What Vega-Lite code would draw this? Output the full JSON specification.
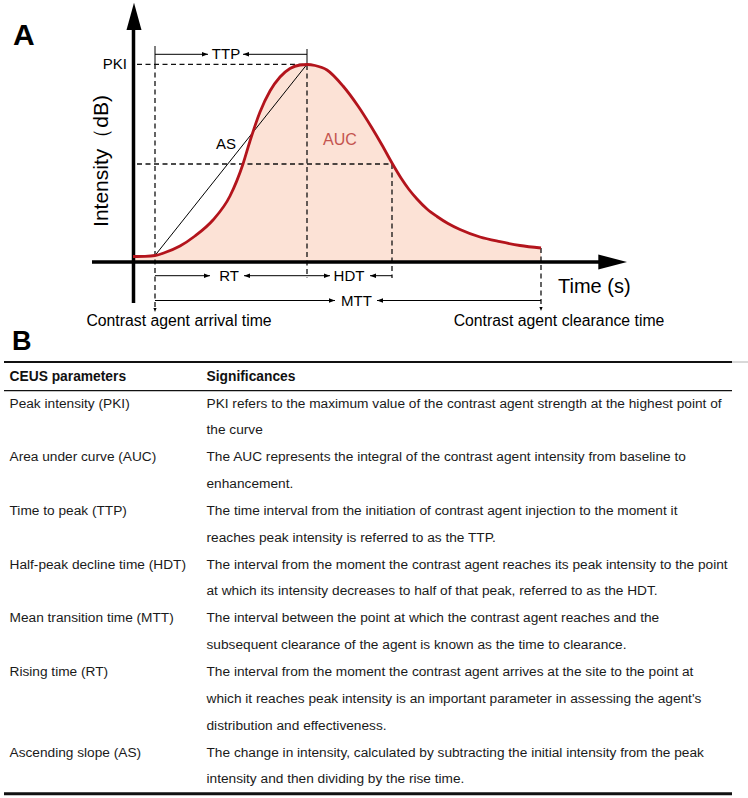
{
  "$schema": "https://vega.github.io/schema/vega-lite/v6.json",
  "padding": 0,
  "spacing": 0,
  "bounds": "flush",
  "background": "white",
  "config": {"view": {"stroke": null}, "font": "Liberation Sans"},
  "datasets": {
    "curve": [
      {"t": 0, "I": 5.5}, {"t": 12, "I": 5.7}, {"t": 22, "I": 6.5}, {"t": 32, "I": 9.5}, {"t": 47, "I": 16},
      {"t": 62, "I": 26}, {"t": 80, "I": 42}, {"t": 97, "I": 66}, {"t": 110, "I": 98}, {"t": 117, "I": 121},
      {"t": 127, "I": 150}, {"t": 137, "I": 171}, {"t": 147, "I": 185}, {"t": 157, "I": 193.5}, {"t": 167, "I": 197},
      {"t": 174, "I": 197.5}, {"t": 182, "I": 196.5}, {"t": 194, "I": 192}, {"t": 210, "I": 176}, {"t": 225, "I": 156},
      {"t": 239, "I": 134}, {"t": 249, "I": 117}, {"t": 259, "I": 99}, {"t": 268, "I": 84}, {"t": 276, "I": 72.5},
      {"t": 284, "I": 63}, {"t": 294, "I": 53}, {"t": 304, "I": 45.5}, {"t": 315, "I": 38.5}, {"t": 327, "I": 32.5},
      {"t": 347, "I": 25}, {"t": 367, "I": 20.3}, {"t": 387, "I": 16.5}, {"t": 408, "I": 14}
    ],
    "segments": [
      {"kind": "dashed", "t": 4, "I": 197.7, "t2": 174, "I2": 197.7},
      {"kind": "dashed", "t": 4, "I": 98, "t2": 259, "I2": 98},
      {"kind": "dashed", "t": 22, "I": 198, "t2": 22, "I2": -48},
      {"kind": "dashed", "t": 174, "I": 197, "t2": 174, "I2": -16},
      {"kind": "dashed", "t": 259, "I": 98, "t2": 259, "I2": -16},
      {"kind": "dashed", "t": 408, "I": 14, "t2": 408, "I2": -47},
      {"kind": "thin", "t": 22, "I": 216, "t2": 22, "I2": 198},
      {"kind": "thin", "t": 174, "I": 213, "t2": 174, "I2": 197},
      {"kind": "thin", "t": 22, "I": 207.7, "t2": 75, "I2": 207.7},
      {"kind": "thin", "t": 110, "I": 207.7, "t2": 174, "I2": 207.7},
      {"kind": "thin", "t": 22, "I": 6.5, "t2": 174, "I2": 197.7},
      {"kind": "thin", "t": 22, "I": -13.7, "t2": 77, "I2": -13.7},
      {"kind": "thin", "t": 111, "I": -13.7, "t2": 174, "I2": -13.7},
      {"kind": "thin", "t": 174, "I": -13.7, "t2": 197, "I2": -13.7},
      {"kind": "thin", "t": 237, "I": -13.7, "t2": 259, "I2": -13.7},
      {"kind": "thin", "t": 22, "I": -38.5, "t2": 202, "I2": -38.5},
      {"kind": "thin", "t": 244, "I": -38.5, "t2": 408, "I2": -38.5},
      {"kind": "axis", "t": 0.5, "I": -41, "t2": 0.5, "I2": 233},
      {"kind": "axis", "t": -41, "I": 0, "t2": 467, "I2": 0}
    ],
    "arrows": [
      {"dir": "right", "t": 75, "I": 207.7},
      {"dir": "right", "t": 77, "I": -13.7},
      {"dir": "right", "t": 197, "I": -13.7},
      {"dir": "right", "t": 202, "I": -38.5},
      {"dir": "left", "t": 110, "I": 207.7},
      {"dir": "left", "t": 111, "I": -13.7},
      {"dir": "left", "t": 237, "I": -13.7},
      {"dir": "left", "t": 244, "I": -38.5},
      {"dir": "down", "t": 22, "I": -50},
      {"dir": "down", "t": 408, "I": -49},
      {"dir": "up-axis", "t": 1, "I": 259.3},
      {"dir": "right-axis", "t": 494, "I": 0}
    ],
    "labels": [
      {"role": "panel", "label": "A", "t": -120, "I": 217},
      {"role": "mid", "label": "TTP", "t": 93, "I": 207.7},
      {"role": "mid", "label": "AS", "t": 93, "I": 118},
      {"role": "mid", "label": "RT", "t": 96, "I": -13.7},
      {"role": "mid", "label": "HDT", "t": 216, "I": -13.7},
      {"role": "mid", "label": "MTT", "t": 223.5, "I": -38.5},
      {"role": "pki", "label": "PKI", "t": -6, "I": 197.7},
      {"role": "auc", "label": "AUC", "t": 207, "I": 122},
      {"role": "ylab", "label": "Intensity（dB)", "t": -31, "I": 101},
      {"role": "xlab", "label": "Time (s)", "t": 425, "I": -25},
      {"role": "event", "label": "Contrast agent arrival time", "t": 46, "I": -59},
      {"role": "event", "label": "Contrast agent clearance time", "t": 426, "I": -59}
    ],
    "table": [
      {"part": "head", "col": "param", "line": 0, "text": "CEUS parameters"},
      {"part": "head", "col": "sig", "line": 0, "text": "Significances"},
      {"part": "body", "col": "param", "line": 1, "text": "Peak intensity (PKI)"},
      {"part": "body", "col": "sig", "line": 1, "text": "PKI refers to the maximum value of the contrast agent strength at the highest point of"},
      {"part": "body", "col": "sig", "line": 2, "text": "the curve"},
      {"part": "body", "col": "param", "line": 3, "text": "Area under curve (AUC)"},
      {"part": "body", "col": "sig", "line": 3, "text": "The AUC represents the integral of the contrast agent intensity from baseline to"},
      {"part": "body", "col": "sig", "line": 4, "text": "enhancement."},
      {"part": "body", "col": "param", "line": 5, "text": "Time to peak (TTP)"},
      {"part": "body", "col": "sig", "line": 5, "text": "The time interval from the initiation of contrast agent injection to the moment it"},
      {"part": "body", "col": "sig", "line": 6, "text": "reaches peak intensity is referred to as the TTP."},
      {"part": "body", "col": "param", "line": 7, "text": "Half-peak decline time (HDT)"},
      {"part": "body", "col": "sig", "line": 7, "text": "The interval from the moment the contrast agent reaches its peak intensity to the point"},
      {"part": "body", "col": "sig", "line": 8, "text": "at which its intensity decreases to half of that peak, referred to as the HDT."},
      {"part": "body", "col": "param", "line": 9, "text": "Mean transition time (MTT)"},
      {"part": "body", "col": "sig", "line": 9, "text": "The interval between the point at which the contrast agent reaches and the"},
      {"part": "body", "col": "sig", "line": 10, "text": "subsequent clearance of the agent is known as the time to clearance."},
      {"part": "body", "col": "param", "line": 11, "text": "Rising time (RT)"},
      {"part": "body", "col": "sig", "line": 11, "text": "The interval from the moment the contrast agent arrives at the site to the point at"},
      {"part": "body", "col": "sig", "line": 12, "text": "which it reaches peak intensity is an important parameter in assessing the agent's"},
      {"part": "body", "col": "sig", "line": 13, "text": "distribution and effectiveness."},
      {"part": "body", "col": "param", "line": 14, "text": "Ascending slope (AS)"},
      {"part": "body", "col": "sig", "line": 14, "text": "The change in intensity, calculated by subtracting the initial intensity from the peak"},
      {"part": "body", "col": "sig", "line": 15, "text": "intensity and then dividing by the rise time."}
    ],
    "tableRules": [
      {"rule": "top", "line": -0.547},
      {"rule": "mid", "line": 0.521},
      {"rule": "bottom", "line": 15.53}
    ]
  },
  "vconcat": [
    {
      "width": 748,
      "height": 326,
      "layer": [
        {
          "data": {"name": "curve"},
          "mark": {"type": "area", "color": "#fce2d6", "interpolate": "monotone"},
          "encoding": {
            "x": {"field": "t", "type": "quantitative", "scale": {"domain": [-133, 615], "nice": false, "zero": false}, "axis": null},
            "y": {"field": "I", "type": "quantitative", "scale": {"domain": [-64, 262], "nice": false, "zero": false}, "axis": null},
            "y2": {"datum": 0}
          }
        },
        {
          "data": {"name": "segments"},
          "transform": [{"filter": "datum.kind === 'dashed'"}],
          "mark": {"type": "rule", "color": "#111111", "strokeWidth": 1.3, "strokeDash": [5, 3.5]},
          "encoding": {
            "x": {"field": "t", "type": "quantitative"},
            "y": {"field": "I", "type": "quantitative"},
            "x2": {"field": "t2"},
            "y2": {"field": "I2"}
          }
        },
        {
          "data": {"name": "segments"},
          "transform": [{"filter": "datum.kind === 'thin'"}],
          "mark": {"type": "rule", "color": "#000000", "strokeWidth": 1},
          "encoding": {
            "x": {"field": "t", "type": "quantitative"},
            "y": {"field": "I", "type": "quantitative"},
            "x2": {"field": "t2"},
            "y2": {"field": "I2"}
          }
        },
        {
          "data": {"name": "segments"},
          "transform": [{"filter": "datum.kind === 'axis'"}],
          "mark": {"type": "rule", "color": "#000000", "strokeWidth": 3.5},
          "encoding": {
            "x": {"field": "t", "type": "quantitative"},
            "y": {"field": "I", "type": "quantitative"},
            "x2": {"field": "t2"},
            "y2": {"field": "I2"}
          }
        },
        {
          "data": {"name": "curve"},
          "mark": {"type": "line", "color": "#b3141c", "strokeWidth": 2.8, "interpolate": "monotone"},
          "encoding": {
            "x": {"field": "t", "type": "quantitative"},
            "y": {"field": "I", "type": "quantitative"}
          }
        },
        {
          "data": {"name": "arrows"},
          "transform": [{"filter": "datum.dir === 'right'"}],
          "mark": {"type": "point", "shape": "M0,0L-2,-0.75L-2,0.75Z", "filled": true, "size": 36, "color": "#000000", "opacity": 1, "strokeWidth": 0},
          "encoding": {
            "x": {"field": "t", "type": "quantitative"},
            "y": {"field": "I", "type": "quantitative"}
          }
        },
        {
          "data": {"name": "arrows"},
          "transform": [{"filter": "datum.dir === 'left'"}],
          "mark": {"type": "point", "shape": "M0,0L2,-0.75L2,0.75Z", "filled": true, "size": 36, "color": "#000000", "opacity": 1, "strokeWidth": 0},
          "encoding": {
            "x": {"field": "t", "type": "quantitative"},
            "y": {"field": "I", "type": "quantitative"}
          }
        },
        {
          "data": {"name": "arrows"},
          "transform": [{"filter": "datum.dir === 'down'"}],
          "mark": {"type": "point", "shape": "M0,0L-0.8,-2L0.8,-2Z", "filled": true, "size": 16, "color": "#000000", "opacity": 1, "strokeWidth": 0},
          "encoding": {
            "x": {"field": "t", "type": "quantitative"},
            "y": {"field": "I", "type": "quantitative"}
          }
        },
        {
          "data": {"name": "arrows"},
          "transform": [{"filter": "datum.dir === 'up-axis'"}],
          "mark": {"type": "point", "shape": "M0,0L-0.55,2L0.55,2Z", "filled": true, "size": 745, "color": "#000000", "opacity": 1, "strokeWidth": 0},
          "encoding": {
            "x": {"field": "t", "type": "quantitative"},
            "y": {"field": "I", "type": "quantitative"}
          }
        },
        {
          "data": {"name": "arrows"},
          "transform": [{"filter": "datum.dir === 'right-axis'"}],
          "mark": {"type": "point", "shape": "M0,0L-2,-0.52L-2,0.52Z", "filled": true, "size": 824, "color": "#000000", "opacity": 1, "strokeWidth": 0},
          "encoding": {
            "x": {"field": "t", "type": "quantitative"},
            "y": {"field": "I", "type": "quantitative"}
          }
        },
        {
          "data": {"name": "labels"},
          "transform": [{"filter": "datum.role === 'panel'"}],
          "mark": {"type": "text", "font": "Liberation Sans", "fontWeight": "bold", "fontSize": 30, "align": "left", "baseline": "alphabetic", "color": "#000000"},
          "encoding": {
            "x": {"field": "t", "type": "quantitative"},
            "y": {"field": "I", "type": "quantitative"},
            "text": {"field": "label"}
          }
        },
        {
          "data": {"name": "labels"},
          "transform": [{"filter": "datum.role === 'mid'"}],
          "mark": {"type": "text", "font": "Liberation Sans", "fontSize": 15, "align": "center", "baseline": "middle", "color": "#000000"},
          "encoding": {
            "x": {"field": "t", "type": "quantitative"},
            "y": {"field": "I", "type": "quantitative"},
            "text": {"field": "label"}
          }
        },
        {
          "data": {"name": "labels"},
          "transform": [{"filter": "datum.role === 'pki'"}],
          "mark": {"type": "text", "font": "Liberation Sans", "fontSize": 15, "align": "right", "baseline": "middle", "color": "#000000"},
          "encoding": {
            "x": {"field": "t", "type": "quantitative"},
            "y": {"field": "I", "type": "quantitative"},
            "text": {"field": "label"}
          }
        },
        {
          "data": {"name": "labels"},
          "transform": [{"filter": "datum.role === 'auc'"}],
          "mark": {"type": "text", "font": "Liberation Sans", "fontSize": 16, "align": "center", "baseline": "middle", "color": "#c4544f"},
          "encoding": {
            "x": {"field": "t", "type": "quantitative"},
            "y": {"field": "I", "type": "quantitative"},
            "text": {"field": "label"}
          }
        },
        {
          "data": {"name": "labels"},
          "transform": [{"filter": "datum.role === 'ylab'"}],
          "mark": {"type": "text", "font": "Liberation Sans", "fontSize": 21, "align": "center", "baseline": "middle", "angle": 270, "color": "#000000"},
          "encoding": {
            "x": {"field": "t", "type": "quantitative"},
            "y": {"field": "I", "type": "quantitative"},
            "text": {"field": "label"}
          }
        },
        {
          "data": {"name": "labels"},
          "transform": [{"filter": "datum.role === 'xlab'"}],
          "mark": {"type": "text", "font": "Liberation Sans", "fontSize": 20, "align": "left", "baseline": "middle", "color": "#000000"},
          "encoding": {
            "x": {"field": "t", "type": "quantitative"},
            "y": {"field": "I", "type": "quantitative"},
            "text": {"field": "label"}
          }
        },
        {
          "data": {"name": "labels"},
          "transform": [{"filter": "datum.role === 'event'"}],
          "mark": {"type": "text", "font": "Liberation Sans", "fontSize": 15.8, "align": "center", "baseline": "middle", "color": "#000000"},
          "encoding": {
            "x": {"field": "t", "type": "quantitative"},
            "y": {"field": "I", "type": "quantitative"},
            "text": {"field": "label"}
          }
        }
      ]
    },
    {
      "width": 748,
      "height": 472,
      "resolve": {"scale": {"x": "independent"}},
      "layer": [
        {
          "data": {"values": [{"label": "B", "line": -0.994}]},
          "mark": {"type": "text", "font": "Liberation Sans", "fontWeight": "bold", "fontSize": 27, "align": "left", "baseline": "alphabetic", "color": "#000000"},
          "encoding": {
            "x": {"datum": 12, "type": "quantitative", "scale": {"domain": [0, 748], "nice": false, "zero": false}, "axis": null},
            "y": {"field": "line", "type": "quantitative", "scale": {"domain": [-1.888, 15.691], "nice": false, "zero": false, "reverse": true}, "axis": null},
            "text": {"field": "label"}
          }
        },
        {
          "data": {"name": "tableRules"},
          "transform": [{"filter": "datum.rule === 'top'"}],
          "mark": {"type": "rule", "color": "#cccccc", "strokeWidth": 1.5},
          "encoding": {
            "x": {"datum": 730, "type": "quantitative", "scale": {"domain": [0, 748], "nice": false, "zero": false}, "axis": null},
            "x2": {"datum": 748},
            "y": {"field": "line", "type": "quantitative"}
          }
        },
        {
          "data": {"name": "tableRules"},
          "transform": [{"filter": "datum.rule === 'top'"}],
          "mark": {"type": "rule", "color": "#111111", "strokeWidth": 2},
          "encoding": {
            "x": {"datum": 4, "type": "quantitative", "scale": {"domain": [0, 748], "nice": false, "zero": false}, "axis": null},
            "x2": {"datum": 732},
            "y": {"field": "line", "type": "quantitative"}
          }
        },
        {
          "data": {"name": "tableRules"},
          "transform": [{"filter": "datum.rule === 'mid'"}],
          "mark": {"type": "rule", "color": "#111111", "strokeWidth": 1.3},
          "encoding": {
            "x": {"datum": 4, "type": "quantitative", "scale": {"domain": [0, 748], "nice": false, "zero": false}, "axis": null},
            "x2": {"datum": 732},
            "y": {"field": "line", "type": "quantitative"}
          }
        },
        {
          "data": {"name": "tableRules"},
          "transform": [{"filter": "datum.rule === 'bottom'"}],
          "mark": {"type": "rule", "color": "#111111", "strokeWidth": 3},
          "encoding": {
            "x": {"datum": 4, "type": "quantitative", "scale": {"domain": [0, 748], "nice": false, "zero": false}, "axis": null},
            "x2": {"datum": 732},
            "y": {"field": "line", "type": "quantitative"}
          }
        },
        {
          "data": {"name": "table"},
          "transform": [{"filter": "datum.part === 'head'"}],
          "mark": {"type": "text", "font": "Liberation Sans", "fontWeight": "bold", "fontSize": 13.8, "align": "left", "baseline": "middle", "color": "#111111"},
          "encoding": {
            "x": {"field": "col", "type": "nominal", "scale": {"type": "point", "domain": ["param", "sig"], "range": [9.5, 206.5], "padding": 0}, "axis": null},
            "y": {"field": "line", "type": "quantitative"},
            "text": {"field": "text"}
          }
        },
        {
          "data": {"name": "table"},
          "transform": [{"filter": "datum.part === 'body'"}],
          "mark": {"type": "text", "font": "Liberation Sans", "fontSize": 13.7, "align": "left", "baseline": "middle", "color": "#1a1a1a"},
          "encoding": {
            "x": {"field": "col", "type": "nominal", "scale": {"type": "point", "domain": ["param", "sig"], "range": [9.5, 206.5], "padding": 0}, "axis": null},
            "y": {"field": "line", "type": "quantitative"},
            "text": {"field": "text"}
          }
        }
      ]
    }
  ]
}
